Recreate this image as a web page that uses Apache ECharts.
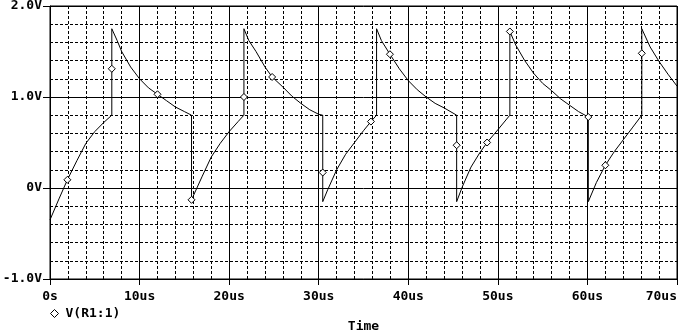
<!DOCTYPE html>
<html>
<head>
<meta charset="utf-8">
<script src="https://cdn.jsdelivr.net/npm/echarts@6/dist/echarts.min.js"></script>
<style>
html,body{margin:0;padding:0;background:#fff;}
#chart{width:682px;height:334px;}
</style>
</head>
<body>
<div id="chart"></div>
<script>
// Time (us) and voltage (V) samples
const timeUs = [0, 1.0, 1.94, 3.0, 4.0, 5.0, 6.0, 6.9, 6.9, 6.9, 7.5, 8.0, 9.0, 10.0, 11.0, 12.0, 13.0, 14.0, 15.0, 15.8,
  15.8, 17.0, 18.0, 19.0, 20.0, 21.0, 21.65, 21.65, 21.65, 22.2, 23.0, 24.0, 24.8, 26.0, 27.0, 28.0, 29.0, 30.0, 30.45,
  30.45, 30.45, 31.0, 32.0, 33.0, 34.0, 35.0, 35.83, 36.46, 36.46, 37.0, 37.95, 39.0, 40.0, 41.0, 42.0, 43.0, 44.0, 45.4,
  45.4, 45.4, 46.06, 47.0, 48.0, 48.8, 50.0, 51.34, 51.34, 52.0, 53.0, 54.0, 55.0, 56.0, 57.0, 58.0, 59.0, 60.1,
  60.1, 61.0, 62.0, 63.0, 64.0, 65.0, 66.07, 66.07, 66.07, 67.0, 68.0, 69.0, 70.0];
const voltage = [-0.35, -0.12, 0.09, 0.30, 0.49, 0.62, 0.72, 0.80, 1.31, 1.75, 1.62, 1.50, 1.33, 1.20, 1.10, 1.03, 0.96, 0.89, 0.84, 0.80,
  -0.13, 0.13, 0.34, 0.49, 0.62, 0.73, 0.80, 1.00, 1.75, 1.62, 1.50, 1.33, 1.22, 1.11, 1.01, 0.93, 0.86, 0.81, 0.80,
  0.17, -0.15, -0.02, 0.20, 0.37, 0.50, 0.63, 0.73, 0.80, 1.75, 1.62, 1.47, 1.31, 1.18, 1.08, 1.00, 0.93, 0.88, 0.80,
  0.47, -0.15, 0.02, 0.23, 0.39, 0.50, 0.64, 0.80, 1.72, 1.57, 1.40, 1.26, 1.15, 1.07, 0.98, 0.91, 0.84, 0.78,
  -0.15, 0.06, 0.25, 0.40, 0.53, 0.66, 0.80, 1.48, 1.75, 1.55, 1.39, 1.25, 1.12];
// indices of samples that carry a diamond marker
const markerIdx = [2, 8, 15, 20, 27, 32, 39, 46, 50, 58, 63, 66, 75, 78, 83];
const seriesName = 'V(R1:1)';
const xLabelUnit = 'us';
const yLabelUnit = 'V';

const FONT = 'DejaVu Sans Mono';
const markerSet = new Set(markerIdx);
const seriesData = timeUs.map((t, i) => markerSet.has(i)
  ? { value: [t, voltage[i]], symbol: 'diamond', symbolSize: 7 }
  : { value: [t, voltage[i]], symbol: 'none' });

const chart = echarts.init(document.getElementById('chart'), null, { renderer: 'canvas' });
chart.setOption({
  animation: false,
  backgroundColor: '#fff',
  grid: { left: 50, right: 5, top: 6, bottom: 55, outerBoundsMode: 'none', containLabel: false,
    show: true, borderColor: '#000', borderWidth: 1, backgroundColor: 'transparent' },
  legend: {
    left: 45, top: 302, itemWidth: 8, itemHeight: 8, icon: 'diamond',
    data: [{ name: seriesName, icon: 'diamond', itemStyle: { color: '#fff', borderColor: '#000', borderWidth: 1 } }],
    textStyle: { fontFamily: FONT, fontWeight: 'bold', fontSize: 13, color: '#000', padding: [0, 0, 0, 2] }
  },
  xAxis: {
    type: 'value', min: 0, max: 70, interval: 10,
    name: 'Time', nameLocation: 'middle', nameGap: 41,
    nameTextStyle: { fontFamily: FONT, fontWeight: 'bold', fontSize: 13, color: '#000' },
    axisLine: { onZero: false, lineStyle: { color: '#000', width: 1 } },
    axisTick: { show: true, inside: false, length: 6, lineStyle: { color: '#000' } },
    axisLabel: {
      margin: 11, fontFamily: FONT, fontWeight: 'bold', fontSize: 13, color: '#000',
      alignMaxLabel: 'right',
      formatter: v => v === 0 ? '0s' : v + xLabelUnit
    },
    splitLine: { show: true, lineStyle: { color: '#000', width: 1, type: 'solid' } },
    minorTick: { show: false, splitNumber: 5 },
    minorSplitLine: { show: true, lineStyle: { color: '#000', width: 1, type: [3, 2] } }
  },
  yAxis: {
    type: 'value', min: -1, max: 2, interval: 1,
    axisLine: { show: true, onZero: false, lineStyle: { color: '#000', width: 1 } },
    axisTick: { show: true, inside: false, length: 7, lineStyle: { color: '#000' } },
    axisLabel: {
      margin: 8, fontFamily: FONT, fontWeight: 'bold', fontSize: 13, color: '#000',
      formatter: v => v === 0 ? '0' + yLabelUnit : v.toFixed(1) + yLabelUnit
    },
    splitLine: { show: true, lineStyle: { color: '#000', width: 1, type: 'solid' } },
    minorTick: { show: false, splitNumber: 5 },
    minorSplitLine: { show: true, lineStyle: { color: '#000', width: 1, type: [3, 2] } }
  },
  series: [{
    name: seriesName,
    type: 'line',
    data: seriesData,
    showSymbol: true,
    symbol: 'none',
    lineStyle: { color: '#000', width: 1 },
    itemStyle: { color: '#fff', borderColor: '#000', borderWidth: 1 },
    emphasis: { disabled: true }
  }]
});
</script>
</body>
</html>
